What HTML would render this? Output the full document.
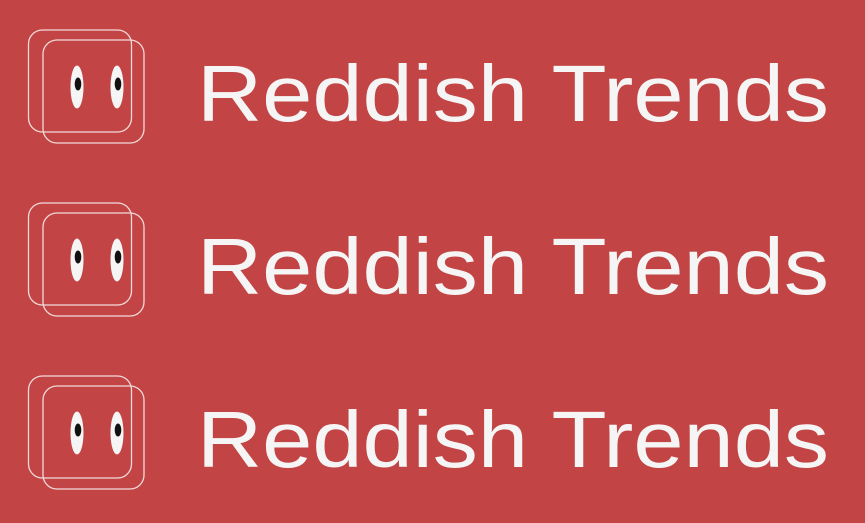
<!DOCTYPE html>
<html><head><meta charset="utf-8"><style>
html,body{margin:0;padding:0;background:#c34444;}
svg{display:block}
</style></head><body>
<svg width="865" height="523" viewBox="0 0 865 523">
<rect width="865" height="523" fill="#c34444"/>
<defs>
<g id="logo">
  <rect x="28.5" y="30" width="103" height="102" rx="14" fill="none" stroke="#f1dada" stroke-width="1.3"/>
  <rect x="43" y="40" width="101" height="103" rx="14" fill="none" stroke="#f1dada" stroke-width="1.3"/>
  <ellipse cx="77" cy="87" rx="6.5" ry="21.5" fill="#f5f5f5"/>
  <ellipse cx="78" cy="84" rx="3.3" ry="6.5" fill="#111"/>
  <ellipse cx="117" cy="87" rx="6.5" ry="21.5" fill="#f5f5f5"/>
  <ellipse cx="118" cy="84" rx="3.3" ry="6.5" fill="#111"/>
</g>
</defs>
<g>
  <use href="#logo"/>
  <text x="197" y="121" font-family="Liberation Sans, sans-serif" font-size="80" fill="#f5f5f5" textLength="632" lengthAdjust="spacingAndGlyphs">Reddish Trends</text>
</g>
<g transform="translate(0,173)">
  <use href="#logo"/>
  <text x="197" y="121" font-family="Liberation Sans, sans-serif" font-size="80" fill="#f5f5f5" textLength="632" lengthAdjust="spacingAndGlyphs">Reddish Trends</text>
</g>
<g transform="translate(0,346)">
  <use href="#logo"/>
  <text x="197" y="121" font-family="Liberation Sans, sans-serif" font-size="80" fill="#f5f5f5" textLength="632" lengthAdjust="spacingAndGlyphs">Reddish Trends</text>
</g>
</svg>
</body></html>
